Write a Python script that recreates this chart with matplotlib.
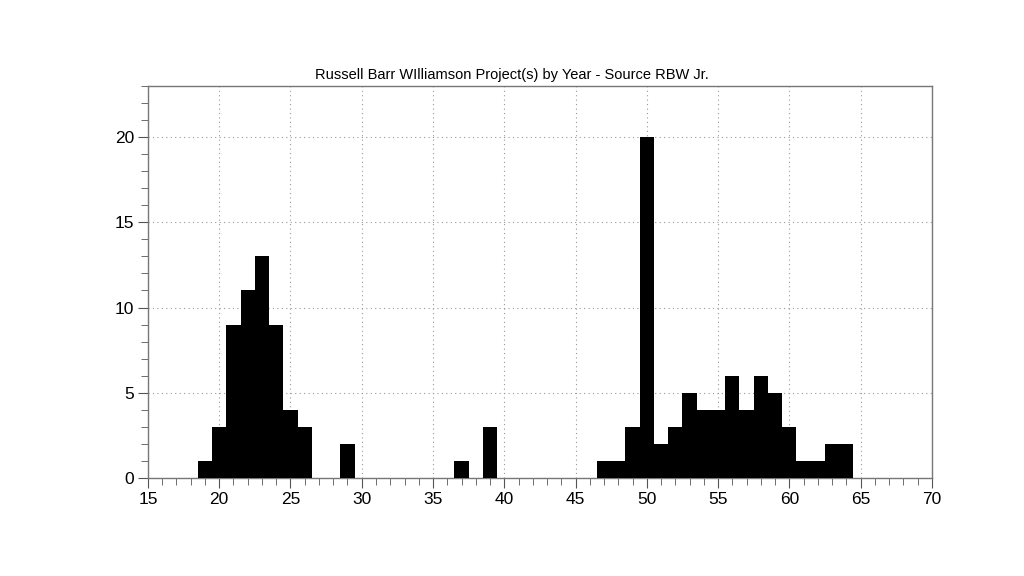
import numpy as np
import matplotlib
matplotlib.use("Agg")
import matplotlib.pyplot as plt
from matplotlib.ticker import MultipleLocator

# project count per age (years)
ages   = [19, 20, 21, 22, 23, 24, 25, 26, 29, 37, 39,
          47, 48, 49, 50, 51, 52, 53, 54, 55, 56, 57, 58, 59, 60, 61, 62, 63, 64]
counts = [1, 3, 9, 11, 13, 9, 4, 3, 2, 1, 3,
          1, 1, 3, 20, 2, 3, 5, 4, 4, 6, 4, 6, 5, 3, 1, 1, 2, 2]

plt.rcParams["font.family"] = ["Liberation Sans", "DejaVu Sans"]

fig = plt.figure(figsize=(10.24, 5.76), dpi=100, facecolor="white")
ax = fig.add_axes([0.1445, 0.170, 0.7655, 0.681])

ax.bar(ages, counts, width=1.0, color="black", edgecolor="black", linewidth=0, zorder=3)

ax.set_xlim(15, 70)
ax.set_ylim(0, 23)
ax.xaxis.set_major_locator(MultipleLocator(5))
ax.xaxis.set_minor_locator(MultipleLocator(1))
ax.yaxis.set_major_locator(MultipleLocator(5))
ax.yaxis.set_minor_locator(MultipleLocator(1))
ax.tick_params(which="both", direction="out", colors="#555555", labelcolor="black",
               labelsize=12.5, top=False, right=False)
ax.tick_params(which="major", length=7, pad=3)
ax.tick_params(which="minor", length=5)
for sp in ax.spines.values():
    sp.set_color("#777777")
    sp.set_linewidth(1.0)

ax.grid(which="major", linestyle=(0, (1, 3)), color="#999999", linewidth=0.8, zorder=0)

# title is centred on the figure, not on the axes
fig.text(0.5, 0.858, "Russell Barr WIlliamson Project(s) by Year - Source RBW Jr.",
         ha="center", va="bottom", fontsize=10.5)

fig.savefig("out.png", dpi=100, facecolor="white")
